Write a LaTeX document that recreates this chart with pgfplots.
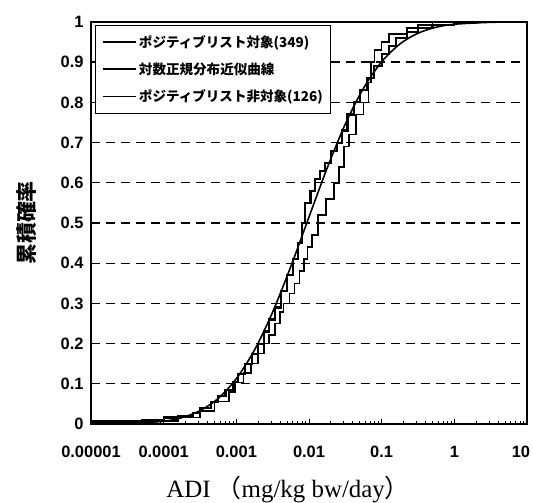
\documentclass[border=0pt]{standalone}
\usepackage{fontspec}
\setmainfont{Liberation Sans}
\newfontfamily\jp{Noto Sans CJK JP}
\newfontfamily\tms{Liberation Serif}
\usepackage{pgfplots}
\pgfplotsset{compat=1.18}

% empirical CDFs (ADI in mg/kg bw/day, cumulative probability)
\pgfplotstableread{
x p
1e-5 0.003
2.51e-5 0.006
5.01e-5 0.010
1e-4 0.016
1.585e-4 0.020
2.51e-4 0.028
3.16e-4 0.040
4.47e-4 0.055
5.62e-4 0.070
7.08e-4 0.085
8.91e-4 0.105
1.047e-3 0.125
1.32e-3 0.15
1.66e-3 0.175
2.0e-3 0.20
2.40e-3 0.23
2.82e-3 0.26
3.39e-3 0.29
4.17e-3 0.33
5.01e-3 0.37
6.03e-3 0.41
7.08e-3 0.45
7.94e-3 0.50
8.91e-3 0.55
1.047e-2 0.58
1.20e-2 0.61
1.41e-2 0.63
1.66e-2 0.65
2.0e-2 0.68
2.40e-2 0.70
2.82e-2 0.73
3.39e-2 0.77
4.17e-2 0.80
5.01e-2 0.83
6.31e-2 0.86
7.94e-2 0.89
0.1 0.92
0.126 0.94
0.158 0.96
0.224 0.975
0.316 0.985
0.501 0.993
1 0.997
2.0 1.0
10 1.0
}\poslist

\pgfplotstableread{
x p
1e-5 0.008
6.31e-5 0.008
1.585e-4 0.016
3.16e-4 0.032
5.01e-4 0.056
7.94e-4 0.079
9.55e-4 0.103
1.26e-3 0.127
1.585e-3 0.15
2.0e-3 0.175
2.40e-3 0.20
2.82e-3 0.222
3.39e-3 0.25
3.98e-3 0.278
4.47e-3 0.30
5.37e-3 0.325
6.31e-3 0.35
7.41e-3 0.38
8.51e-3 0.41
9.55e-3 0.44
1.10e-2 0.47
1.32e-2 0.52
1.70e-2 0.56
2.19e-2 0.60
2.57e-2 0.64
3.02e-2 0.69
3.55e-2 0.72
4.47e-2 0.77
5.62e-2 0.80
6.61e-2 0.85
7.08e-2 0.90
7.94e-2 0.93
0.1 0.95
0.126 0.97
0.224 0.985
0.316 0.992
0.501 1.0
10 1.0
}\nonlist

% lognormal fit
\pgfplotstableread{
x p
1e-5 0.0001
3.16e-5 0.0010
1e-4 0.0069
1.78e-4 0.0158
3.16e-4 0.0331
5.62e-4 0.0636
1e-3 0.1127
1.78e-3 0.1841
3.16e-3 0.2784
5.62e-3 0.3917
1e-2 0.5150
1.78e-2 0.6368
3.16e-2 0.7462
5.62e-2 0.8352
0.1 0.9010
0.178 0.9452
0.316 0.9721
0.562 0.9870
1 0.9944
3.16 0.9992
10 0.9999
}\fit

\begin{document}
\begin{tikzpicture}
\begin{axis}[
  scale only axis, width=436bp, height=402bp,
  xmode=log, xmin=1e-5, xmax=10, ymin=0, ymax=1,
  axis line style={line width=1.6pt},
  xtick={1e-5,1e-4,1e-3,1e-2,1e-1,1,10},
  xticklabels={0.00001,0.0001,0.001,0.01,0.1,1,10\hspace*{12bp}},
  ytick={0,0.1,...,1},
  yticklabels={0,0.1,0.2,0.3,0.4,0.5,0.6,0.7,0.8,0.9,1},
  /pgf/number format/assume math mode=true,
  tick label style={font=\bfseries\fontsize{16.5}{17}\selectfont},
  yticklabel style={xshift=-4bp},
  xticklabel style={yshift=-19bp},
  tick align=inside, xtick pos=bottom, ytick pos=left,
  major tick length=5bp, minor tick length=3bp,
  tick style={black, line width=0.8pt},
  ymajorgrids,
  y grid style={black, line width=1.4pt, dash pattern=on 9bp off 6bp},
  xlabel={\tms ADI {\jp （}mg/kg bw/day{\jp ）}},
  xlabel style={font=\fontsize{25}{27}\selectfont, at={(axis description cs:0.452,-0.164)}, anchor=center},
  ylabel={\jp\bfseries 累積確率},
  ylabel style={font=\fontsize{21}{22}\selectfont, at={(axis description cs:-0.147,0.5)}, anchor=center},
  legend style={at={(rel axis cs:0.01,0.993)}, anchor=north west, draw=black, line width=0.9pt,
    font=\jp\bfseries\fontsize{13.6}{16}\selectfont, row sep=10bp, inner xsep=6bp, inner ysep=8bp},
  legend cell align=left,
  legend image code/.code={\draw[#1] (7bp,0bp) -- (40bp,0bp);},
]
\addplot[black, line width=2.2pt, const plot] table[x=x, y=p] {\poslist};
\addplot[black, line width=1.6pt, smooth] table[x=x, y=p] {\fit};
\addplot[black, line width=1.6pt, const plot] table[x=x, y=p] {\nonlist};
\legend{ポジティブリスト対象(349), 対数正規分布近似曲線, ポジティブリスト非対象(126)}
\end{axis}
\pgfresetboundingbox
\path (-91bp,-79bp) rectangle (442bp,424bp);
\end{tikzpicture}
\end{document}
